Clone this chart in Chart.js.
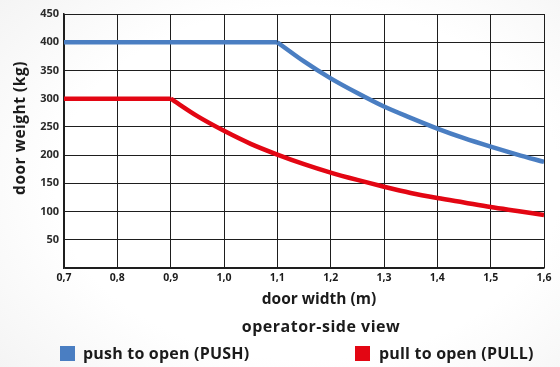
<!DOCTYPE html>
<html>
<head>
<meta charset="utf-8">
<script src="https://cdn.jsdelivr.net/npm/chart.js@4/dist/chart.umd.min.js"></script>
<style>
  html, body { margin: 0; padding: 0; }
  body {
    width: 560px; height: 367px; overflow: hidden;
    background: radial-gradient(ellipse 75% 80% at 55% 50%, #ffffff 60%, #f3f3f3 100%);
  }
  #wrap { position: relative; width: 560px; height: 367px; }
</style>
</head>
<body>
<div id="wrap"><canvas id="c" width="560" height="367"></canvas></div>
<script>
// Door width (m) sample points
const widths = [0.7, 0.75, 0.8, 0.85, 0.9, 0.95, 1.0, 1.05, 1.1, 1.15, 1.2, 1.25, 1.3, 1.35, 1.4, 1.45, 1.5, 1.55, 1.6];
// Maximum door weight (kg), push to open
const pushWeights = [400, 400, 400, 400, 400, 400, 400, 400, 400, 366, 336, 310, 286, 266, 247, 230, 215, 201, 188];
// Maximum door weight (kg), pull to open
const pullWeights = [300, 300, 300, 300, 300, 269, 243, 220, 201, 184, 169, 156, 144, 133, 124, 116, 108, 101, 94];
// Axis ticks
const xTicks = [0.7, 0.8, 0.9, 1.0, 1.1, 1.2, 1.3, 1.4, 1.5, 1.6];
const yTicks = [0, 50, 100, 150, 200, 250, 300, 350, 400, 450];

const seriesNames = ['push to open (PUSH)', 'pull to open (PULL)'];
const seriesColors = ['#4a7ec2', '#e30613'];
const yTitle = 'door weight (kg)';
const xTitle = 'door width (m)';
const viewNote = 'operator-side view';

const FONT = '"Open Sans", "DejaVu Sans", sans-serif';
const TEXT = '#1b1b1b';

const toPoints = (ys) => widths.map((w, i) => ({ x: w, y: ys[i] }));

// Each curve is a constant plateau followed by a smooth decline;
// draw them as two pieces so the corner stays sharp.
function pieces(ys, color) {
  const pts = toPoints(ys);
  let k = 0;
  while (k + 1 < ys.length && ys[k + 1] === ys[0]) k++;
  return [
    { data: pts.slice(0, k + 1), borderColor: color, tension: 0 },
    { data: pts.slice(k), borderColor: color, cubicInterpolationMode: 'monotone' }
  ];
}

// Titles and legend drawn around the plot area
const decorations = {
  id: 'decorations',
  afterDraw(chart) {
    const { ctx } = chart;
    ctx.save();
    ctx.fillStyle = TEXT;
    ctx.textBaseline = 'middle';
    ctx.textAlign = 'center';
    // y title
    ctx.font = '700 15.5px ' + FONT;
    ctx.letterSpacing = '0.5px';
    ctx.save();
    ctx.translate(21, 128);
    ctx.rotate(-Math.PI / 2);
    ctx.fillText(yTitle, 0, 0);
    ctx.restore();
    // x title and note
    ctx.letterSpacing = '0px';
    ctx.font = '700 15.5px ' + FONT;
    ctx.fillText(xTitle, 319, 300);
    ctx.letterSpacing = '0.5px';
    ctx.font = '700 16px ' + FONT;
    ctx.fillText(viewNote, 321, 327);
    // legend
    ctx.letterSpacing = '0.2px';
    ctx.font = '700 16px ' + FONT;
    ctx.textAlign = 'left';
    const items = [[60, 83], [355, 379]];
    items.forEach(([bx, tx], i) => {
      ctx.fillStyle = seriesColors[i];
      ctx.fillRect(bx, 346, 15, 15);
      ctx.fillStyle = TEXT;
      ctx.fillText(seriesNames[i], tx, 354);
    });
    ctx.restore();
  }
};

new Chart(document.getElementById('c'), {
  type: 'line',
  data: {
    datasets: [
      ...pieces(pushWeights, seriesColors[0]),
      ...pieces(pullWeights, seriesColors[1])
    ]
  },
  options: {
    responsive: false,
    animation: false,
    devicePixelRatio: 1,
    layout: { padding: { left: 0, top: 14, right: 16, bottom: 0 } },
    elements: {
      line: { borderWidth: 4.5, borderJoinStyle: 'round', borderCapStyle: 'butt', fill: false },
      point: { radius: 0, hoverRadius: 0 }
    },
    plugins: {
      legend: { display: false },
      tooltip: { enabled: false }
    },
    scales: {
      x: {
        type: 'linear',
        min: 0.7, max: 1.6,
        afterBuildTicks: (s) => { s.ticks = xTicks.map(v => ({ value: v })); },
        afterFit: (s) => { s.height = 99; },
        ticks: {
          color: TEXT,
          font: { family: FONT, size: 10.5, weight: '700' },
          padding: 4,
          maxRotation: 0,
          callback: (v) => v.toFixed(1).replace('.', ',')
        },
        grid: { color: '#1e1e1e', lineWidth: 1, drawTicks: false },
        border: { color: '#1e1e1e', width: 1.5 }
      },
      y: {
        min: 0, max: 450,
        afterBuildTicks: (s) => { s.ticks = yTicks.map(v => ({ value: v })); },
        afterFit: (s) => { s.width = 64; },
        ticks: {
          color: '#2a2a2a',
          font: { family: FONT, size: 11, weight: '700' },
          padding: 5,
          callback: (v) => (v === 0 ? '' : String(v))
        },
        grid: { color: '#1e1e1e', lineWidth: 1, drawTicks: false },
        border: { color: '#1e1e1e', width: 1.5 }
      }
    }
  },
  plugins: [decorations]
});
</script>
</body>
</html>
